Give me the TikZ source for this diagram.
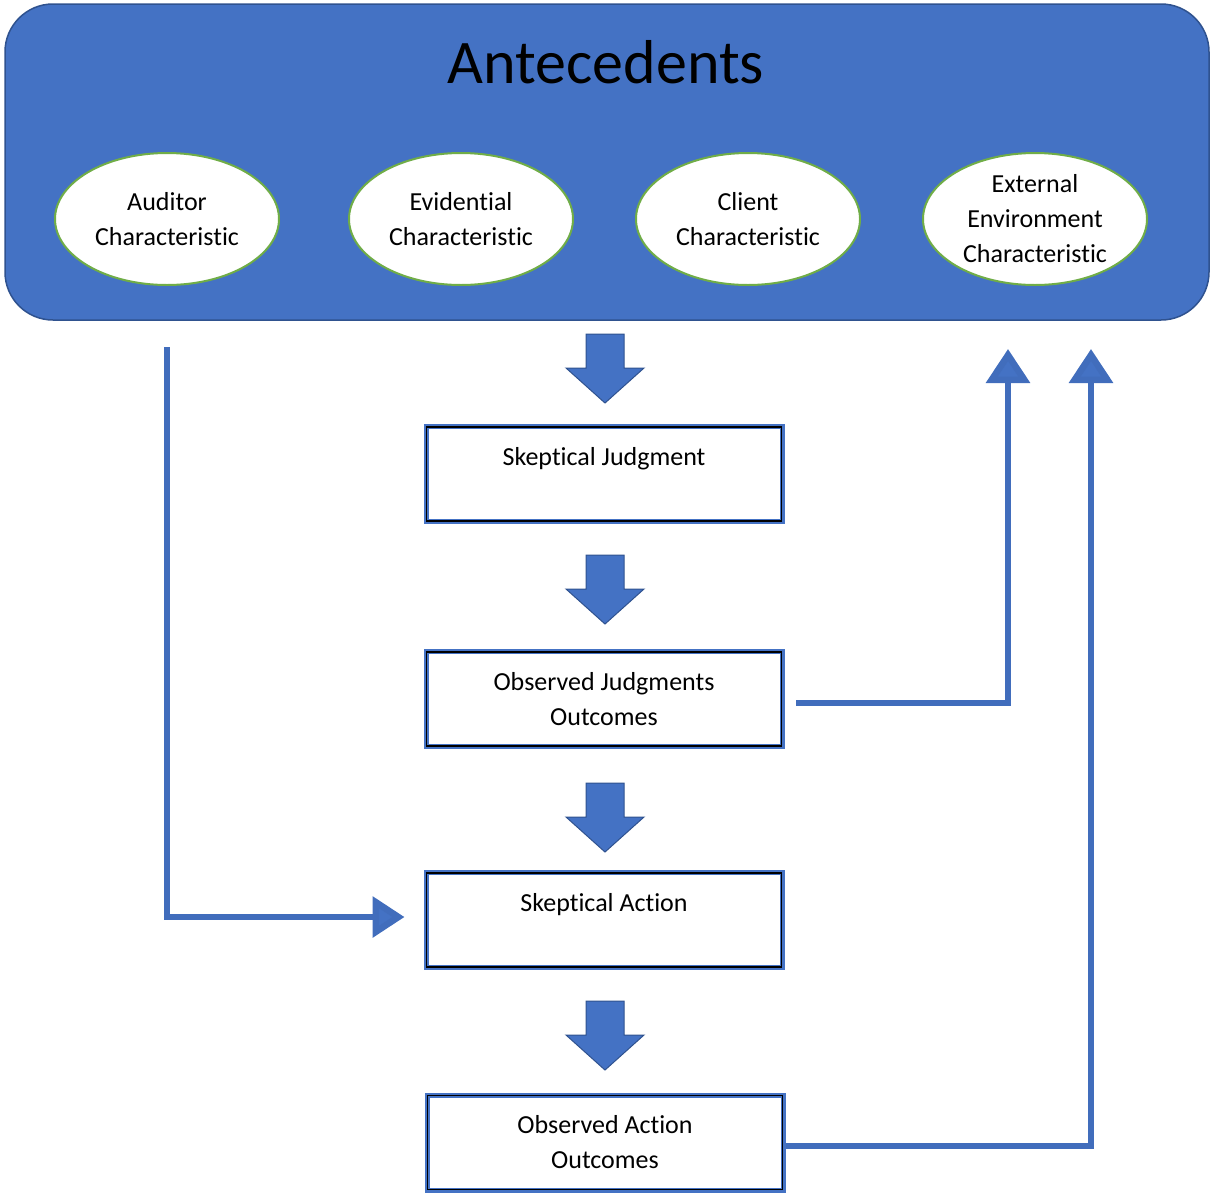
\documentclass[tikz,border=0pt]{standalone}
\usepackage{fontspec}
\setmainfont{Carlito}[Ligatures=NoCommon]
\usetikzlibrary{shapes.geometric, arrows.meta, calc}
\definecolor{blueA}{HTML}{4472C4}
\definecolor{blueD}{HTML}{2F528F}
\definecolor{leaf}{HTML}{70AD47}
\colorlet{linkblue}{blueA!85!blueD}

\tikzset{
  txt/.style={font=\fontsize{26}{35}\selectfont, align=center, text=black},
  panel/.style={draw=blueD, line width=1.5pt, fill=blueA, rounded corners=48pt,
    minimum width=1204pt, minimum height=316pt, inner sep=0pt},
  factor/.style={ellipse, draw=leaf, line width=2pt, fill=white,
    minimum width=224pt, minimum height=132pt, inner sep=0pt, txt},
  stage/.style={draw=blueA, line width=5pt, fill=white,
    minimum width=356pt, minimum height=95pt, inner sep=0pt, txt},
  conn/.style={draw=linkblue, line width=6.5pt,
    -{Triangle[length=32pt, width=40pt, fill=blueA]}},
  uplink/.style={draw=linkblue, line width=6.5pt,
    -{Triangle[length=34pt, width=43pt, fill=blueA]}},
  downarrow/.pic={
    \draw[fill=blueA, draw=blueD, line width=1pt]
      (-19,0) -- (19,0) -- (19,34) -- (39,34) -- (0,69) -- (-39,34) -- (-19,34) -- cycle;
  }
}

\begin{document}
\begin{tikzpicture}[x=1pt, y=-1pt]
\useasboundingbox (0,0) rectangle (1212,1197);

% antecedents panel
\node[panel] (ante) at (607,162) {};
\node[font=\fontsize{62}{70}\selectfont] (title) at (606,62) {Antecedents};

\node[factor] (aud) at (167,219) {Auditor\\Characteristic};
\node[factor] (evi) at (461,219) {Evidential\\Characteristic};
\node[factor] (cli) at (748,219) {Client\\Characteristic};
\node[factor] (ext) at (1035,219) {External\\Environment\\Characteristic};

% stages
\node[stage] (sj) at (604,474) {Skeptical Judgment\\\mbox{}};
\node[stage] (oj) at (604,699) {Observed Judgments\\Outcomes};
\node[stage] (sa) at (604,920) {Skeptical Action\\\mbox{}};
\node[stage] (oa) at (605,1142.5) {Observed Action\\Outcomes};

% inner black frames of the stage boxes
\foreach \b in {sj,oj,sa,oa}{
  \draw[black, line width=1.5pt] ($(\b.north west)+(3,3)$) rectangle ($(\b.south east)+(-3,-3)$);
}

% block arrows between stages
\pic at (605,334) {downarrow};
\pic at (605,555) {downarrow};
\pic at (605,783) {downarrow};
\pic at (605,1001) {downarrow};

% connectors
\draw[conn] ([yshift=-61pt]aud.south) |- ([xshift=-19pt,yshift=3pt]sa.west);
\draw[uplink] ([xshift=11.5pt,yshift=-4pt]oj.east) -| ([xshift=-27pt,yshift=-63pt]ext.south);
\draw[uplink] ([yshift=-3.5pt]oa.east) -| ([xshift=56pt,yshift=-63pt]ext.south);
\end{tikzpicture}
\end{document}
